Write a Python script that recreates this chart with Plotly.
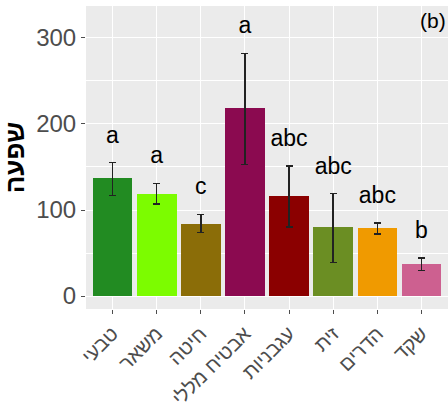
import plotly.graph_objects as go

categories = ["טבעי", "משאר", "חיטה", "אבטיח מללי", "עגבניות", "זית", "הדרים", "שקד"]
values = [137, 119, 84, 218, 116, 80, 79, 37]
err_upper = [155, 131, 95, 282, 151, 119, 85, 44]
err_lower = [117, 107, 74, 153, 80, 39, 72, 30]
letters = ["a", "a", "c", "a", "abc", "abc", "abc", "b"]
colors = ["#228B22", "#7CFC00", "#8B6D08", "#8B0A50", "#8B0000", "#6B8E23", "#F09A00", "#CD6090"]

x = list(range(len(categories)))
fig = go.Figure()
fig.add_trace(go.Bar(
    x=x, y=values, width=0.9,
    marker=dict(color=colors, line=dict(width=0)),
    error_y=dict(type="data", symmetric=False,
                 array=[u - v for u, v in zip(err_upper, values)],
                 arrayminus=[v - l for v, l in zip(values, err_lower)],
                 color="#222222", thickness=1.5, width=3.5),
    showlegend=False,
))
fig.add_trace(go.Scatter(
    x=x, y=[u + 30 for u in err_upper], mode="text", text=letters,
    textfont=dict(family="Liberation Sans, Arial", size=23, color="black"),
    showlegend=False, cliponaxis=False,
))
fig.add_annotation(x=1, y=1, xref="paper", yref="paper", text="(b)", showarrow=False,
                   xanchor="right", yanchor="top", xshift=0, yshift=-1,
                   font=dict(family="Liberation Sans, Arial", size=21, color="black"))

fig.update_layout(
    width=448, height=410,
    margin=dict(l=86, r=0, t=6, b=101),
    paper_bgcolor="white", plot_bgcolor="#EBEBEB",
    font=dict(family="Liberation Sans, Arial", color="#4D4D4D"),
    bargap=0,
)
fig.update_xaxes(
    range=[-0.6, 7.6], tickmode="array", tickvals=x, ticktext=categories,
    tickangle=-45, tickfont=dict(size=20, color="#4D4D4D"), automargin=False,
    showgrid=True, gridcolor="white", gridwidth=1.2,
    ticks="outside", ticklen=4, tickcolor="#4D4D4D", zeroline=False,
)
fig.update_yaxes(
    range=[-15, 337], tickvals=[0, 100, 200, 300], automargin=False,
    tickfont=dict(size=24, color="#4D4D4D"),
    showgrid=True, gridcolor="white", gridwidth=1.2,
    minor=dict(tickvals=[50, 150, 250], showgrid=True, gridcolor="white", gridwidth=0.6),
    ticks="outside", ticklen=4, tickcolor="#4D4D4D", zeroline=False,
    title=dict(text="<b>שפעה</b>", font=dict(size=26, color="black"), standoff=6),
)
fig.write_html("out.html")
